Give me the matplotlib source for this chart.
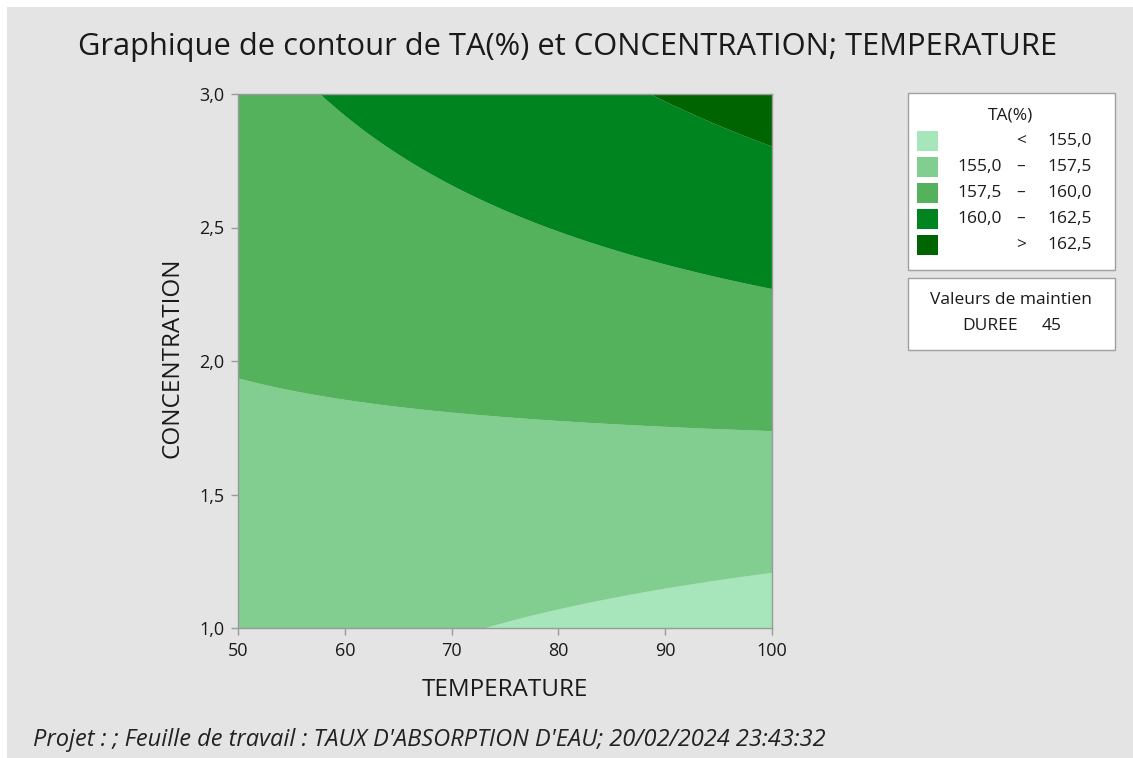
import numpy as np
import matplotlib
matplotlib.use("Agg")
import matplotlib.pyplot as plt
from matplotlib.patches import Rectangle

# ---- data (points on each contour boundary) ----
levels = [155.0, 157.5, 160.0, 162.5]
c155_T = [73.8, 80.0, 90.0, 100.0]
c155_C = [1.000, 1.074, 1.150, 1.207]
c1575_T = [50.0, 60.0, 70.0, 80.0, 90.0, 100.0]
c1575_C = [1.936, 1.858, 1.809, 1.775, 1.751, 1.735]
c160_T = [57.6, 62.6, 70.0, 80.0, 90.0, 100.0]
c160_C = [3.000, 2.845, 2.651, 2.484, 2.364, 2.270]
c1625_T = [88.5, 94.0, 100.0]
c1625_C = [3.000, 2.905, 2.800]

legend_labels = [("", "<", "155,0"), ("155,0", "–", "157,5"), ("157,5", "–", "160,0"),
                 ("160,0", "–", "162,5"), ("", ">", "162,5")]
colors = ["#a6e6ba", "#82ce90", "#54b25c", "#008420", "#006400"]
x_ticks = [50, 60, 70, 80, 90, 100]
x_ticklabels = ["50", "60", "70", "80", "90", "100"]
y_ticks = [1.0, 1.5, 2.0, 2.5, 3.0]
y_ticklabels = ["1,0", "1,5", "2,0", "2,5", "3,0"]
hold_name = "DUREE"
hold_value = "45"

# ---- fit a quadratic response surface through the read boundary points ----
Ts, Cs, Zs = [], [], []
for lv, tt, cc in zip(levels, [c155_T, c1575_T, c160_T, c1625_T],
                      [c155_C, c1575_C, c160_C, c1625_C]):
    Ts += tt; Cs += cc; Zs += [lv] * len(tt)
Ts = np.array(Ts); Cs = np.array(Cs); Zs = np.array(Zs)

def basis(T, C):
    t = (T - 75.0) / 25.0
    c = C - 2.0
    return np.stack([np.ones_like(t), t, c, t * t, c * c, t * c], axis=-1)

coef, *_ = np.linalg.lstsq(basis(Ts, Cs), Zs, rcond=None)
TT, CC = np.meshgrid(np.linspace(50, 100, 400), np.linspace(1, 3, 400))
ZZ = basis(TT, CC) @ coef

# ---- figure ----
W, H = 1133, 758
fig = plt.figure(figsize=(W / 100, H / 100), dpi=100, facecolor="white")
plt.rcParams['font.family'] = ['Open Sans', 'DejaVu Sans']
TXT = "#1a1a1a"

def fx(x):
    return x / W

def fy(y):
    return 1 - y / H

fig.patches.append(Rectangle((fx(7), 0), 1 - fx(7), fy(7), transform=fig.transFigure,
                             facecolor="#e4e4e4", edgecolor="none", zorder=-10))

ax = fig.add_axes([fx(238), fy(628), fx(772) - fx(238), fy(94) - fy(628)])
ax.set_facecolor("#e4e4e4")
bounds = [min(ZZ.min(), 150) - 1] + levels + [max(ZZ.max(), 170) + 1]
ax.contourf(TT, CC, ZZ, levels=bounds, colors=colors, antialiased=True)
ax.set_xlim(50, 100)
ax.set_ylim(1, 3)
ax.set_xticks(x_ticks)
ax.set_xticklabels(x_ticklabels)
ax.set_yticks(y_ticks)
ax.set_yticklabels(y_ticklabels)
for s in ax.spines.values():
    s.set_color("#9a9a9a")
    s.set_linewidth(1.0)
ax.tick_params(direction="out", length=5, width=1, color="#9a9a9a",
               labelsize=13, labelcolor=TXT, pad=5)

fig.text(fx(505), fy(690), "TEMPERATURE", ha="center", va="center", fontsize=17.5, color=TXT)
fig.text(fx(172), fy(358), "CONCENTRATION", ha="center", va="center", fontsize=17.5,
         color=TXT, rotation=90)

fig.text(fx(568), fy(47), "Graphique de contour de TA(%) et CONCENTRATION; TEMPERATURE",
         ha="center", va="center", fontsize=22.2, color=TXT)
fig.text(fx(33), fy(740), "Projet : ; Feuille de travail : TAUX D'ABSORPTION D'EAU; 20/02/2024 23:43:32",
         ha="left", va="center", fontsize=17, style="italic", color="#222222")

# legend box
LFS = 12.5
fig.patches.append(Rectangle((fx(908), fy(270)), fx(1115) - fx(908), fy(93) - fy(270),
                             transform=fig.transFigure, facecolor="white",
                             edgecolor="#a0a0a0", linewidth=1.0))
fig.text(fx(1011), fy(115), "TA(%)", ha="center", va="center", fontsize=LFS, color=TXT)
for i, (lo, mid, hi) in enumerate(legend_labels):
    yc = 141 + 26 * i
    fig.patches.append(Rectangle((fx(917), fy(yc + 10)), fx(21), 20 / H,
                                 transform=fig.transFigure, facecolor=colors[i],
                                 edgecolor="none"))
    if lo:
        fig.text(fx(1002), fy(yc), lo, ha="right", va="center", fontsize=LFS, color=TXT)
    fig.text(fx(1021), fy(yc), mid, ha="center", va="center", fontsize=LFS, color=TXT)
    fig.text(fx(1092), fy(yc), hi, ha="right", va="center", fontsize=LFS, color=TXT)

# hold values box
fig.patches.append(Rectangle((fx(908), fy(350)), fx(1115) - fx(908), fy(278) - fy(350),
                             transform=fig.transFigure, facecolor="white",
                             edgecolor="#a0a0a0", linewidth=1.0))
fig.text(fx(1011), fy(300), "Valeurs de maintien", ha="center", va="center",
         fontsize=LFS, color=TXT)
fig.text(fx(962), fy(326), hold_name, ha="left", va="center", fontsize=LFS, color=TXT)
fig.text(fx(1062), fy(326), hold_value, ha="right", va="center", fontsize=LFS, color=TXT)

fig.savefig("out.png", dpi=100, facecolor="white")
